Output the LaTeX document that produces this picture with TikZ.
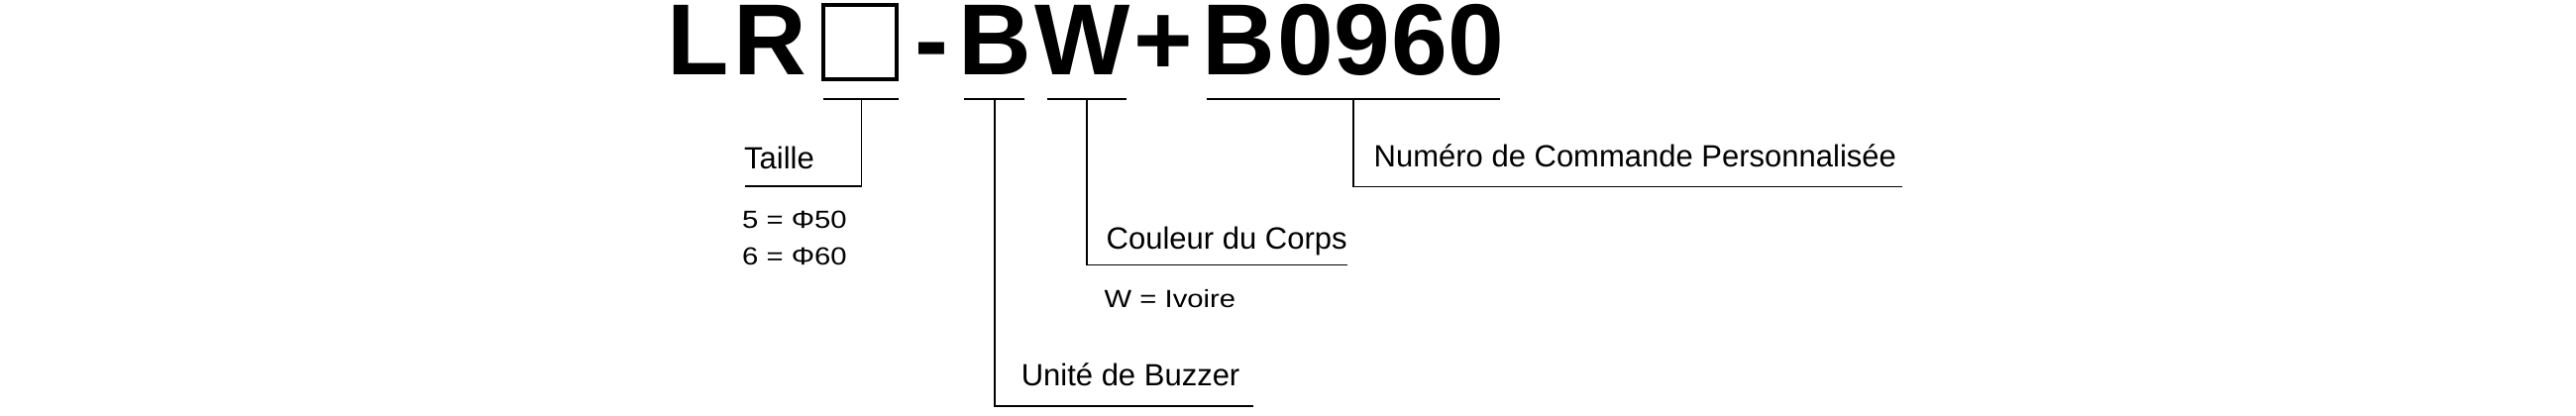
\documentclass[tikz,border=0pt]{standalone}
\usepackage{fontspec}
\setmainfont{Liberation Sans}
\newfontfamily\valfont[FakeStretch=1.17]{Liberation Sans}
\begin{document}
\begin{tikzpicture}[x=1pt,y=-1pt,
  titlechar/.style={inner sep=0pt,anchor=base,font=\fontsize{102}{110}\selectfont\bfseries},
  label/.style={inner sep=0pt,anchor=base west,font=\fontsize{31}{36}\selectfont},
  valtext/.style={inner sep=0pt,anchor=base west,font=\valfont\fontsize{25}{30}\selectfont},
  underl/.style={line width=2.2pt},
  leader/.style={line width=1.5pt}]
\useasboundingbox (0,0) rectangle (2600,420);
% title
\node[titlechar] (cL) at (705,76) {L};
\node[titlechar] (cR) at (777.5,76) {R};
\draw[line width=4pt] (831,5.3) rectangle (905,79.7);
\node[titlechar] (cD) at (940.5,76) {-};
\node[titlechar] (cB) at (1004.5,76) {B};
\node[titlechar] (cW) at (1092.5,76) {W};
\node[titlechar] (cP) at (1174.5,76) {+};
\node[titlechar] (cB2) at (1250,76) {B};
\node[titlechar] (c0) at (1317.5,76) {0};
\node[titlechar] (c9) at (1375,76) {9};
\node[titlechar] (c6) at (1432.5,76) {6};
\node[titlechar] (c0b) at (1490,76) {0};
% underlines
\coordinate (a1) at (831,100); \coordinate (b1) at (907,100);
\coordinate (a2) at (973,100); \coordinate (b2) at (1034,100);
\coordinate (a3) at (1057,100); \coordinate (b3) at (1137,100);
\coordinate (a4) at (1218,100); \coordinate (b4) at (1514,100);
\draw[underl] (a1) -- (b1);
\draw[underl] (a2) -- (b2);
\draw[underl] (a3) -- (b3);
\draw[underl] (a4) -- (b4);
% leader points
\coordinate (u1) at (869.5,100); \coordinate (e1) at (752,188);
\coordinate (u2) at (1004,100);  \coordinate (e2) at (1265,410);
\coordinate (u3) at (1097,100);  \coordinate (e3) at (1360,267.5);
\coordinate (u4) at (1366,100);  \coordinate (e4) at (1920,188.5);
\draw[leader] (u1) |- (e1);
\draw[leader] (u2) |- (e2);
\draw[leader] (u3) |- (e3);
\draw[leader] (u4) |- (e4);
% labels
\node[label] (lTaille) at (751,170) {Taille};
\node[valtext] (v5) at (749,230) {5 = Φ50};
\node[valtext] (v6) at (749,267) {6 = Φ60};
\node[label] (lBuzz) at (1030.6,389) {Unité de Buzzer};
\node[label] (lCoul) at (1116.5,251.7) {Couleur du Corps};
\node[valtext] (vW) at (1114.5,310) {W = Ivoire};
\node[label] (lNum) at (1386.5,168) {Numéro de Commande Personnalisée};
\end{tikzpicture}
\end{document}
